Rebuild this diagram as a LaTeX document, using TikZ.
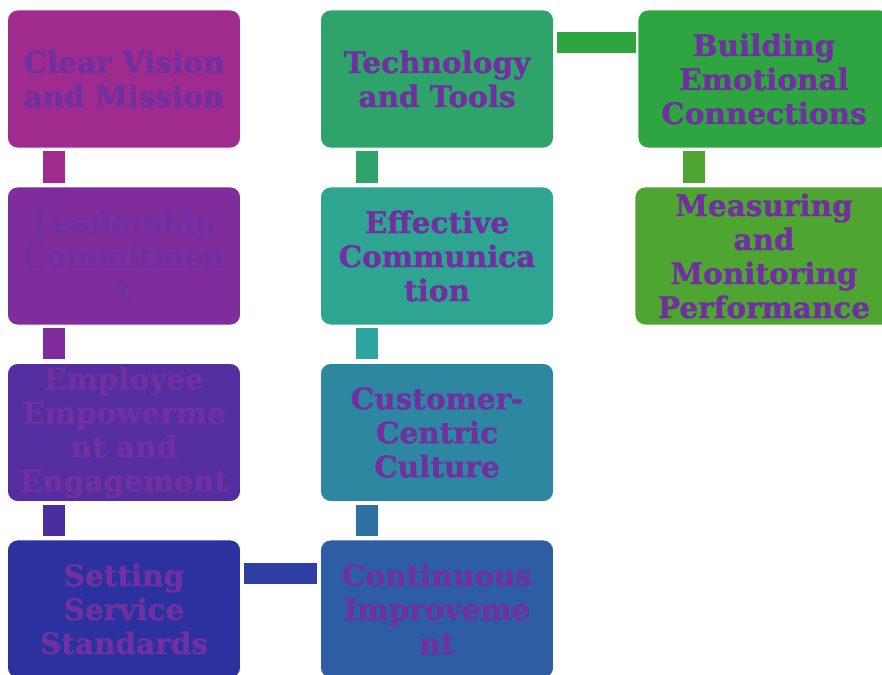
\documentclass[tikz,border=0pt]{standalone}
\usepackage{fontspec}
\setmainfont{DejaVu Serif}
\newfontfamily\heavyfont[FakeBold=1.2]{DejaVu Serif Bold}
\definecolor{txt}{HTML}{7030A0}
\definecolor{cA}{HTML}{A02B8F}
\definecolor{cB}{HTML}{7F2C9C}
\definecolor{cC}{HTML}{542E9E}
\definecolor{cD}{HTML}{2C31A0}
\definecolor{cE}{HTML}{2D5DA3}
\definecolor{cF}{HTML}{2E87A0}
\definecolor{cG}{HTML}{2EA591}
\definecolor{cH}{HTML}{2EA46A}
\definecolor{cI}{HTML}{2EA540}
\definecolor{cJ}{HTML}{4FA531}
\definecolor{kA}{HTML}{A02B8F}
\definecolor{kB}{HTML}{7F2C9C}
\definecolor{kC}{HTML}{4B2E9E}
\definecolor{kD}{HTML}{2D3FA3}
\definecolor{kE}{HTML}{2D71A0}
\definecolor{kF}{HTML}{2EA5A0}
\definecolor{kG}{HTML}{2EA46A}
\definecolor{kH}{HTML}{2EA540}
\definecolor{kI}{HTML}{4FA531}
\tikzset{
  boxnode/.style={draw=white, line width=0.8pt, rounded corners=10pt, minimum width=233pt, minimum height=138pt,
    align=center, text=txt, font=\heavyfont\fontsize{29.5}{34}\selectfont, inner sep=0pt},
  vlink/.style={line width=22pt},
  hlink/.style={line width=21pt}
}
\begin{document}
\begin{tikzpicture}[x=1pt,y=-1pt]
\useasboundingbox (0,0) rectangle (882,674);
\clip (0,0) rectangle (882,674);
% column 1
\node[boxnode, fill=cA] (n1) at (124,79) {Clear Vision\\and Mission};
\node[boxnode, fill=cB] (n2) at (124,256) {Leadership\\Commitmen\\t};
\node[boxnode, fill=cC] (n3) at (124,432.5) {Employee\\Empowerme\\nt and\\Engagement};
\node[boxnode, fill=cD] (n4) at (124,609) {Setting\\Service\\Standards};
% column 2
\node[boxnode, fill=cE] (n5) at (437,609) {Continuous\\Improveme\\nt};
\node[boxnode, fill=cF] (n6) at (437,432.5) {Customer-\\Centric\\Culture};
\node[boxnode, fill=cG] (n7) at (437,256) {Effective\\Communica\\tion};
\node[boxnode, fill=cH] (n8) at (437,79) {Technology\\and Tools};
% column 3
\node[boxnode, fill=cI, minimum width=252pt] (n9) at (764,79) {Building\\Emotional\\Connections};
\node[boxnode, fill=cJ, minimum width=258pt] (n10) at (764,256) {Measuring\\and\\Monitoring\\Performance};
% connectors
\draw[vlink, kA] ([xshift=-70pt,yshift=-3pt]n1.south) -- ([xshift=-70pt,yshift=4pt]n2.north);
\draw[vlink, kB] ([xshift=-70pt,yshift=-3pt]n2.south) -- ([xshift=-70pt,yshift=4pt]n3.north);
\draw[vlink, kC] ([xshift=-70pt,yshift=-3pt]n3.south) -- ([xshift=-70pt,yshift=4pt]n4.north);
\draw[hlink, kD] ([xshift=3pt,yshift=36pt]n4.east) -- ([xshift=-3pt,yshift=36pt]n5.west);
\draw[vlink, kE] ([xshift=-70pt,yshift=4pt]n5.north) -- ([xshift=-70pt,yshift=-3pt]n6.south);
\draw[vlink, kF] ([xshift=-70pt,yshift=4pt]n6.north) -- ([xshift=-70pt,yshift=-3pt]n7.south);
\draw[vlink, kG] ([xshift=-70pt,yshift=4pt]n7.north) -- ([xshift=-70pt,yshift=-3pt]n8.south);
\draw[hlink, kH] ([xshift=3pt,yshift=36pt]n8.east) -- ([xshift=-2pt,yshift=36pt]n9.west);
\draw[vlink, kI] ([xshift=-70pt,yshift=-3pt]n9.south) -- ([xshift=-70pt,yshift=4pt]n10.north);
\end{tikzpicture}
\end{document}
